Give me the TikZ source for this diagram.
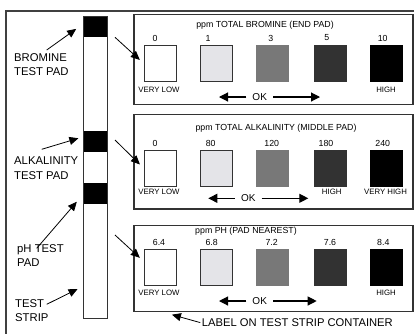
\documentclass[tikz,border=0pt]{standalone}
\usepackage{fontspec}
\setmainfont{Liberation Sans}
\usetikzlibrary{arrows.meta,calc}
\definecolor{pale}{RGB}{228,228,232}
\definecolor{midgray}{RGB}{120,120,120}
\definecolor{darkgray}{RGB}{50,50,50}

\begin{document}
\begin{tikzpicture}[x=1pt,y=-1pt,
	pointer/.style={-{Triangle[length=9pt,width=8pt]},line width=0.8pt},
	okarrow/.style={-{Triangle[length=9pt,width=9pt]},line width=1.1pt},
	panel/.style={draw=black!80,line width=1.2pt,anchor=north west,inner sep=0pt,minimum width=279pt},
	pad/.style={fill=black,anchor=north west,inner sep=0pt,minimum width=24pt,minimum height=21pt},
	swatch/.style={minimum width=32pt,minimum height=36pt,inner sep=0pt,line width=1pt},
	lbl/.style={align=left,anchor=north west,inner sep=0pt,font=\fontsize{11.3}{14.3}\selectfont},
	num/.style={font=\fontsize{8.8}{10}\selectfont},
	lvl/.style={font=\fontsize{7.8}{9}\selectfont},
	ok/.style={font=\fontsize{10}{12}\selectfont,inner xsep=6pt}]
	\useasboundingbox (0,0) rectangle (414,333);
	%FRAME
	\draw[black!75,line width=1.6pt] (5.8,340) |- (420,11);
	
	%STRIP
	\node[pad] (brpad) at (82.7,15.7) {};
	\node[pad] (alpad) at (82.7,130.7) {};
	\node[pad,minimum height=20.6pt] (phpad) at (82.7,182.7) {};
	\node[draw=black!80,line width=1pt,anchor=north west,inner sep=0pt,minimum width=24pt,minimum height=302.6pt] (strip) at (82.7,15.7) {};
	
	\node[lbl] (brlbl) at (14,53) {BROMINE\\TEST PAD};
	\node[lbl] (allbl) at (14,157) {ALKALINITY\\TEST PAD};
	\node[lbl] (phlbl) at (17,244) {pH TEST\\PAD};
	\node[lbl] (striplbl) at (15,299) {TEST\\STRIP};
	\coordinate (brtail) at (46.7,50);
	\coordinate (altail) at (41.7,149.3);
	\coordinate (phtail) at (36.7,248.3);
	\coordinate (striptail) at (46.7,304.3);
	\draw[pointer,shorten >=8pt] (brtail) -- (brpad.170);
	\draw[pointer,shorten >=4.5pt] (altail) -- (alpad.160);
	\draw[pointer,shorten >=9pt] (phtail) -- (phpad.188);
	\draw[pointer,shorten >=5.7pt] (striptail) -- (strip.264.5);
	
	%PANELS
	\node[panel,minimum height=90pt] (brpanel) at (133.3,14) {};
	\node[panel,minimum height=94.3pt] (alpanel) at (133.3,114) {};
	\node[panel,minimum height=86pt] (phpanel) at (133.3,224.5) {};
	\foreach \p/\y in {br/63.3,al/168,ph/267.2}
	\foreach \i/\x/\c/\d in {1/160/white/black!80,2/216.3/pale/black!80,3/272/midgray/midgray,4/330.3/darkgray/darkgray,5/386.3/black/black}
	\node[swatch,fill=\c,draw=\d] (\p\i) at (\x,\y) {};
	
	%BROMINE
	\node[num] (brttl) at (265,25) {ppm TOTAL BROMINE (END PAD)};
	\foreach \i/\x/\t in {1/155/0,2/208/1,3/270.7/3,4/326.7/5,5/382.7/10}
	\node[num] (brn\i) at (\x,38) {\t};
	\node[lvl] (brlo) at (159,90) {VERY LOW};
	\node[lvl] (brhi) at (386,90) {HIGH};
	\node[ok] (brok) at (259.7,97) {OK};
	\coordinate (brokl) at (219,97);
	\coordinate (brokr) at (320,97);
	\draw[okarrow] (brok) -- (brokl);
	\draw[okarrow] (brok) -- (brokr);
	
	%ALKALINITY
	\node[num] (alttl) at (276,128.3) {ppm TOTAL ALKALINITY (MIDDLE PAD)};
	\foreach \i/\x/\t in {1/155/0,2/210.7/80,3/271.7/120,4/326/180,5/382.7/240}
	\node[num] (aln\i) at (\x,143.3) {\t};
	\node[lvl] (allo) at (159,192) {VERY LOW};
	\node[lvl] (alhi) at (331.7,192) {HIGH};
	\node[lvl] (alvh) at (385.5,192) {VERY HIGH};
	\node[ok] (alok) at (248.3,198.3) {OK};
	\coordinate (alokl) at (208.3,198.3);
	\coordinate (alokr) at (308.3,198.3);
	\draw[okarrow] (alok) -- (alokl);
	\draw[okarrow] (alok) -- (alokr);
	
	%PH
	\node[num] (phttl) at (246,231.7) {ppm PH (PAD NEAREST)};
	\foreach \i/\x/\t in {1/159/6.4,2/211.7/6.8,3/271.7/7.2,4/330/7.6,5/383.3/8.4}
	\node[num] (phn\i) at (\x,242.3) {\t};
	\node[lvl] (phlo) at (159,293) {VERY LOW};
	\node[lvl] (phhi) at (386,292.5) {HIGH};
	\node[ok] (phok) at (259.7,301) {OK};
	\coordinate (phokl) at (219,301);
	\coordinate (phokr) at (316.7,301);
	\draw[okarrow] (phok) -- (phokl);
	\draw[okarrow] (phok) -- (phokr);
	
	%STRIP TO PANEL
	\coordinate (brfrom) at (115,37.3);
	\coordinate (alfrom) at (115,140);
	\coordinate (phfrom) at (115,235);
	\draw[pointer,shorten >=5pt] (brfrom) -- (br1.west);
	\draw[pointer,shorten >=5pt] (alfrom) -- (al1.west);
	\draw[pointer,shorten >=5pt] (phfrom) -- (ph1.160);
	
	%CONTAINER
	\node[anchor=west,inner sep=0pt,font=\fontsize{11.2}{13}\selectfont] (cntlbl) at (201.7,323) {LABEL ON TEST STRIP CONTAINER};
	\draw[pointer,shorten <=1.5pt,shorten >=11pt] (cntlbl.west) -- ($(phpanel.south west)!0.1!(phpanel.south east)$);
\end{tikzpicture}
\end{document}
